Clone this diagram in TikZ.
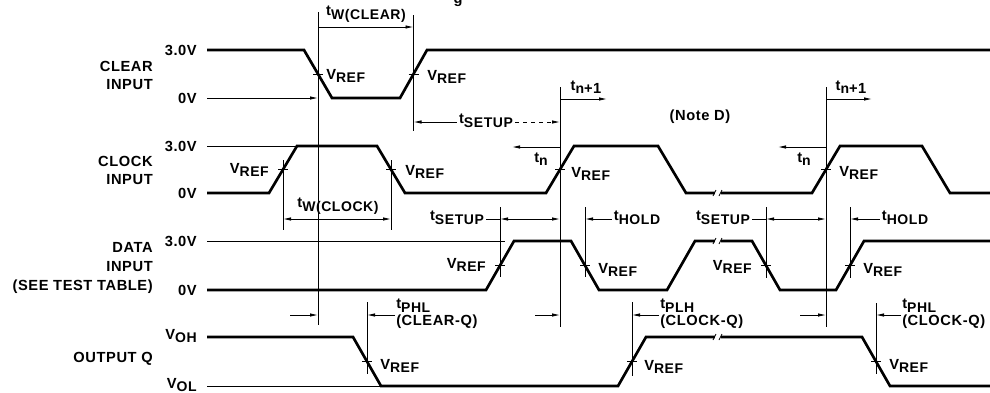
\documentclass[tikz,border=0pt]{standalone}
\usepackage{fontspec}
\setmainfont{Liberation Sans}[LetterSpace=4]
\usepackage{tikz}
\usetikzlibrary{positioning}
\usetikzlibrary{calc,arrows.meta}

\tikzset{
	wave/.style={line width=2pt, line join=miter},
	guide/.style={line width=0.6pt},
	dim/.style={line width=0.6pt, -{Latex[length=6pt,width=2.6pt]}},
	dimboth/.style={line width=0.6pt, {Latex[length=6pt,width=2.6pt]}-{Latex[length=6pt,width=2.6pt]}},
	lbl/.style={font=\fontsize{11}{13.5}\selectfont\bfseries, inner sep=1.5pt},
	twoline/.style={lbl, anchor=west, align=left, font=\fontsize{11}{12.5}\selectfont\bfseries},
}
% letter with a lowered index, as V REF or t SETUP
\newcommand{\lowsub}[2]{#1\raisebox{-0.45ex}{\fontsize{10.5}{12}\selectfont #2}}

\begin{document}
\begin{tikzpicture}[x=0.75pt, y=-0.75pt]
	
	\useasboundingbox (0,0) rectangle (990,393);
	
	% fragment of the title, cut off by the page edge
	\node[lbl, anchor=base] (TitleFrag) at (458,3) {g};
	
	% VREF crossings, half way up each ramp
	\coordinate (ClrA) at (318,74);
	\coordinate (ClrB) at (413.5,74);
	\coordinate (ClkA) at (283,169.5);
	\coordinate (ClkB) at (391,169.5);
	\coordinate (ClkC) at (560,169.5);
	\coordinate (ClkD) at (826,169.5);
	\coordinate (DatA) at (500,265.5);
	\coordinate (DatB) at (585,265.5);
	\coordinate (DatC) at (766,265.5);
	\coordinate (DatD) at (850,265.5);
	\coordinate (OutA) at (367,361.5);
	\coordinate (OutB) at (632,361.5);
	\coordinate (OutC) at (876,361.5);
	
	%%%%%%%%%%%%%%%%%%%%%%%%%%%%%%%%%%%%%%%%%%%%%%%%%%%%%%%%%%%%%%
	% signal names and levels
	\node[lbl, anchor=east, align=right] (ClrName) at (155,75) {CLEAR\\INPUT};
	\node[lbl, anchor=east, align=right] (ClkName) at (155,170) {CLOCK\\INPUT};
	\node[lbl, anchor=east, align=right] (DatName) at (155,268) {DATA\\[1pt]INPUT\\[1pt](SEE TEST TABLE)};
	\node[lbl, anchor=east] (OutName) at (155,359) {OUTPUT Q};
	
	\node[lbl, anchor=east] (ClrHi) at (199,50) {3.0V};
	\node[lbl, anchor=east] (ClrLo) at (199,98) {0V};
	\node[lbl, anchor=east] (ClkHi) at (199,146) {3.0V};
	\node[lbl, anchor=east] (ClkLo) at (199,193) {0V};
	\node[lbl, anchor=east] (DatHi) at (199,241) {3.0V};
	\node[lbl, anchor=east] (DatLo) at (199,290) {0V};
	\node[lbl, anchor=east] (OutHi) at (199,336) {\lowsub{V}{OH}};
	\node[lbl, anchor=east] (OutLo) at (199,385) {\lowsub{V}{OL}};
	
	%%%%%%%%%%%%%%%%%%%%%%%%%%%%%%%%%%%%%%%%%%%%%%%%%%%%%%%%%%%%%%
	% waveforms
	\draw[wave] (207,50) -- (304,50) -- (332,98) -- (400,98) -- (427,50) -- (990,50);
	
	\draw[guide] (207,146) -- (297,146);
	\draw[wave] (207,193) -- (269,193) -- (297,146) -- (377,146) -- (405,193) -- (546,193)
		-- (574,146) -- (658,146) -- (686,193) -- (812,193) -- (840,146) -- (922,146)
		-- (950,193) -- (990,193);
	
	\draw[guide] (207,241) -- (505,241);
	\draw[wave] (207,290) -- (486,290) -- (514,241) -- (571,241) -- (599,290) -- (667,290)
		-- (695,241) -- (752,241) -- (780,290) -- (836,290) -- (864,241) -- (990,241);
	
	\draw[guide] (207,386) -- (381,386);
	\draw[wave] (207,337) -- (353,337) -- (381,386) -- (618,386) -- (646,337) -- (862,337)
		-- (890,386) -- (990,386);
	
	% time breaks
	\foreach \yy in {193,241,337}{
		\fill[white] (715,\yy-4) rectangle (721,\yy+4);
		\draw[guide] (713,\yy+3) -- (716,\yy-3) (719,\yy+3) -- (722,\yy-3);
	}
	
	% reference verticals and tick marks at each crossing
	\foreach \c/\xx/\ya/\yb in {ClrA/318/12/325, ClrB/413.5/15/131,
			ClkA/283/160/230, ClkB/391/160/230, ClkC/560/87/327, ClkD/826/87/327,
			DatA/500/207/277, DatB/585/207/277, DatC/766/207/278, DatD/850/207/278,
			OutA/367/302/374, OutB/632/302/376, OutC/876/303/374}{
		\coordinate (\c Top) at (\xx,\ya);
		\coordinate (\c Bot) at (\xx,\yb);
		\draw[guide] (\c Top) -- (\c Bot);
		\draw[guide] ($(\c)+(-5,0)$) -- ($(\c)+(5,0)$);
	}
	
	%%%%%%%%%%%%%%%%%%%%%%%%%%%%%%%%%%%%%%%%%%%%%%%%%%%%%%%%%%%%%%
	% VREF labels
	\node[lbl, anchor=west] (ClrARef) at (324,76) {\lowsub{V}{REF}};
	\node[lbl, anchor=west] (ClrBRef) at (425,77) {\lowsub{V}{REF}};
	\node[lbl, anchor=east] (ClkARef) at (271,170) {\lowsub{V}{REF}};
	\node[lbl, anchor=west] (ClkBRef) at (403,172) {\lowsub{V}{REF}};
	\node[lbl, anchor=west] (ClkCRef) at (569,174) {\lowsub{V}{REF}};
	\node[lbl, anchor=west] (ClkDRef) at (837,173) {\lowsub{V}{REF}};
	\node[lbl, anchor=east] (DatARef) at (488,265) {\lowsub{V}{REF}};
	\node[lbl, anchor=west] (DatBRef) at (596,270) {\lowsub{V}{REF}};
	\node[lbl, anchor=east] (DatCRef) at (754,267) {\lowsub{V}{REF}};
	\node[lbl, anchor=west] (DatDRef) at (861,270) {\lowsub{V}{REF}};
	\node[lbl, anchor=west] (OutARef) at (378,366) {\lowsub{V}{REF}};
	\node[lbl, anchor=west] (OutBRef) at (642,367) {\lowsub{V}{REF}};
	\node[lbl, anchor=west] (OutCRef) at (887,366) {\lowsub{V}{REF}};
	
	%%%%%%%%%%%%%%%%%%%%%%%%%%%%%%%%%%%%%%%%%%%%%%%%%%%%%%%%%%%%%%
	% pulse widths
	\coordinate (WClrL) at (318,27);
	\coordinate (WClrR) at (413.5,27);
	\draw[dim] (WClrL) -- (WClrR);
	\node[lbl] (WClrLabel) at (366,14) {\lowsub{t}{W(CLEAR)}};
	
	\coordinate (ClrGuide) at (207,98);
	\draw[dim] (ClrGuide) -- (ClrA |- ClrGuide);
	
	\coordinate (WClkL) at (283,219);
	\coordinate (WClkR) at (391,219);
	\draw[dimboth] (WClkL) -- (WClkR);
	\node[lbl] (WClkLabel) at (338,206) {\lowsub{t}{W(CLOCK)}};
	
	% setup of clear against clock
	\coordinate (SuClrL) at (413.5,122);
	\coordinate (SuClrR) at (560,122);
	\node[lbl] (SuClrLabel) at (486,121) {\lowsub{t}{SETUP}};
	\draw[dim] (SuClrLabel.west |- SuClrL) -- (SuClrL);
	\draw[dim, dashed] (SuClrLabel.east |- SuClrR) -- (SuClrR);
	
	% clock edges t_n and t_n+1
	\coordinate (NxtA) at (560,99);
	\coordinate (NxtAEnd) at (607,99);
	\draw[dim] (NxtA) -- (NxtAEnd);
	\node[lbl] (NxtALabel) at (586,87) {\lowsub{t}{n}\raisebox{-0.45ex}{+1}};
	\coordinate (CurA) at (560,147);
	\coordinate (CurAEnd) at (512,147);
	\draw[dim] (CurA) -- (CurAEnd);
	\node[lbl] (CurALabel) at (541,159) {\lowsub{t}{n}};
	
	\coordinate (NxtB) at (826,99);
	\coordinate (NxtBEnd) at (872,99);
	\draw[dim] (NxtB) -- (NxtBEnd);
	\node[lbl] (NxtBLabel) at (851,87) {\lowsub{t}{n}\raisebox{-0.45ex}{+1}};
	\coordinate (CurB) at (826,147);
	\coordinate (CurBEnd) at (778,147);
	\draw[dim] (CurB) -- (CurBEnd);
	\node[lbl] (CurBLabel) at (804,159) {\lowsub{t}{n}};
	
	\node[lbl] (NoteD) at (700,117) {(Note D)};
	
	% setup and hold of data
	\coordinate (SuDatAL) at (500,219);
	\coordinate (SuDatAR) at (560,219);
	\node[lbl] (SuDatALabel) at (457,218) {\lowsub{t}{SETUP}};
	\draw[guide] (SuDatALabel.east |- SuDatAL) -- (SuDatAL);
	\draw[dimboth] (SuDatAL) -- (SuDatAR);
	
	\coordinate (HoDatA) at (585,219);
	\node[lbl] (HoDatALabel) at (637,218) {\lowsub{t}{HOLD}};
	\draw[dim] (HoDatALabel.west |- HoDatA) -- (HoDatA);
	
	\coordinate (SuDatBL) at (766,219);
	\coordinate (SuDatBR) at (826,219);
	\node[lbl] (SuDatBLabel) at (723,218) {\lowsub{t}{SETUP}};
	\draw[guide] (SuDatBLabel.east |- SuDatBL) -- (SuDatBL);
	\draw[dimboth] (SuDatBL) -- (SuDatBR);
	
	\coordinate (HoDatB) at (850,219);
	\node[lbl] (HoDatBLabel) at (905,218) {\lowsub{t}{HOLD}};
	\draw[dim] (HoDatBLabel.west |- HoDatB) -- (HoDatB);
	
	% propagation delays
	\coordinate (PdClrIn) at (290,315);
	\draw[dim] (PdClrIn) -- (ClrA |- PdClrIn);
	\node[twoline] (PdClrLabel) at (394,314) {\lowsub{t}{PHL}\\(CLEAR-Q)};
	\coordinate (PdClrOut) at (395,315);
	\draw[dim] (PdClrOut) -- (OutA |- PdClrOut);
	
	\coordinate (PdClkAIn) at (535,315);
	\draw[dim] (PdClkAIn) -- (ClkC |- PdClkAIn);
	\node[twoline] (PdClkALabel) at (658,314) {\lowsub{t}{PLH}\\(CLOCK-Q)};
	\coordinate (PdClkAOut) at (659,315);
	\draw[dim] (PdClkAOut) -- (OutB |- PdClkAOut);
	
	\coordinate (PdClkBIn) at (800,315);
	\draw[dim] (PdClkBIn) -- (ClkD |- PdClkBIn);
	\node[twoline] (PdClkBLabel) at (900,314) {\lowsub{t}{PHL}\\(CLOCK-Q)};
	\coordinate (PdClkBOut) at (901,315);
	\draw[dim] (PdClkBOut) -- (OutC |- PdClkBOut);
	
\end{tikzpicture}
\end{document}
